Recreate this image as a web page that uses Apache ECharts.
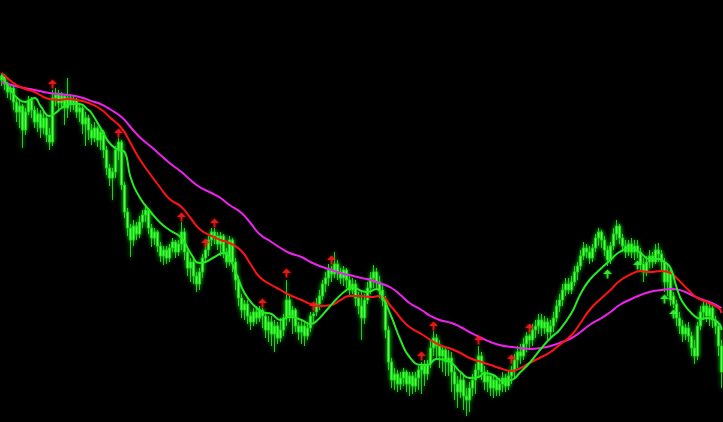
<!DOCTYPE html>
<html><head><meta charset="utf-8">
<script src="https://cdn.jsdelivr.net/npm/echarts@6/dist/echarts.min.js"></script>
<style>html,body{margin:0;padding:0;background:#000}#c{width:723px;height:422px}</style>
</head><body><div id="c"></div>
<script>
// Price bars: [open, close, lowest, highest] (axis drawn inverted, arbitrary units)
const bars = [
[80,76,73,86],[76,84,74,90],[84,92,82,98],[92,88,85,100],[88,102,86,110],[102,112,98,122],[112,106,100,128],[106,130,104,148],[130,112,108,135],[112,100,96,115],
[100,110,97,118],[110,122,106,128],[122,114,108,132],[114,128,110,138],[128,118,112,134],[118,135,115,142],[135,142,128,150],[142,98,90,146],[98,95,88,106],[95,103,90,110],
[103,96,92,108],[96,108,94,125],[108,98,78,118],[98,104,94,112],[104,100,96,110],[100,112,98,118],[112,108,104,122],[108,124,106,134],[124,118,112,146],[118,130,115,140],
[130,138,124,145],[138,128,122,142],[128,140,126,147],[140,132,128,150],[132,150,130,158],[150,168,146,175],[168,178,164,186],[178,172,168,200],[172,150,146,178],[150,142,138,160],
[142,185,140,190],[185,212,182,218],[212,228,208,236],[228,240,224,257],[240,226,220,246],[226,234,222,240],[234,222,216,238],[222,215,210,228],[215,210,206,222],[210,228,208,234],
[228,238,224,247],[238,232,228,245],[232,246,230,252],[246,256,242,262],[256,250,246,265],[250,258,246,264],[258,248,244,262],[248,242,238,252],[242,252,240,258],[252,244,240,256],
[244,232,222,250],[232,252,228,260],[252,268,248,276],[268,262,258,282],[262,276,258,284],[276,284,272,292],[284,272,268,290],[272,258,254,278],[258,250,247,262],[250,240,236,256],
[240,232,228,246],[232,236,228,244],[236,244,232,250],[244,236,232,256],[236,252,234,258],[252,262,248,268],[262,240,236,266],[240,262,238,272],[262,280,258,290],[280,298,276,306],
[298,310,294,318],[310,304,300,320],[304,316,300,324],[316,322,312,330],[322,312,308,326],[312,318,306,324],[318,310,306,322],[310,316,308,328],[316,330,312,338],[330,322,316,342],
[322,334,316,346],[334,326,320,352],[326,338,322,344],[338,330,318,342],[330,318,314,336],[318,300,280,326],[300,316,296,322],[316,310,306,334],[310,326,308,332],[326,332,322,340],
[332,326,320,344],[326,336,322,346],[336,328,322,340],[328,316,312,332],[316,314,312,324],[312,304,298,316],[304,296,290,310],[296,284,280,300],[284,278,272,292],[278,270,264,286],
[270,274,266,282],[274,264,252,278],[264,272,260,280],[272,278,268,284],[278,270,266,286],[270,280,268,288],[280,290,276,296],[290,284,278,294],[284,298,280,306],[298,306,292,314],
[306,318,292,340],[318,300,294,324],[300,288,282,304],[288,278,272,294],[278,272,265,288],[272,282,268,290],[282,290,276,298],[290,300,284,306],[300,330,296,338],[330,362,326,370],
[362,380,358,388],[380,374,368,390],[374,384,370,392],[384,378,372,390],[378,372,368,386],[372,384,370,392],[384,376,372,396],[376,386,372,394],[386,378,372,392],[378,370,366,390],
[370,366,362,394],[366,374,360,386],[374,364,360,380],[364,348,340,368],[348,338,331,356],[338,346,334,358],[346,356,340,368],[356,350,346,372],[350,362,348,376],[362,358,350,376],
[358,372,352,392],[372,384,366,400],[384,392,376,408],[392,380,372,398],[380,396,376,410],[396,400,388,416],[400,388,382,412],[388,380,374,396],[380,370,364,394],[370,356,346,376],
[356,372,352,380],[372,382,366,390],[382,376,370,392],[376,388,374,396],[388,380,376,398],[380,390,376,396],[390,384,378,396],[384,378,372,392],[378,386,374,392],[386,376,370,390],
[376,370,366,384],[370,360,354,378],[360,352,346,368],[352,356,344,364],[356,344,338,360],[344,336,332,352],[336,340,334,350],[340,330,324,346],[330,326,320,338],[326,320,314,334],
[320,328,314,336],[328,322,316,334],[322,332,318,340],[332,326,320,338],[326,318,312,332],[318,306,300,322],[306,300,294,312],[300,290,284,306],[290,284,278,296],[284,290,278,294],
[290,282,276,294],[282,272,266,286],[272,266,262,280],[266,256,250,270],[256,248,242,260],[248,252,244,258],[252,258,246,264],[258,248,244,262],[248,238,234,252],[238,232,228,246],
[232,240,230,248],[240,250,236,256],[250,260,246,266],[260,246,242,264],[246,234,228,250],[234,226,220,240],[226,238,224,244],[238,246,234,252],[246,252,240,258],[252,244,240,256],
[244,252,238,258],[252,246,240,260],[246,252,240,258],[252,264,248,272],[264,272,258,282],[272,262,256,276],[262,256,250,268],[256,262,252,268],[262,250,244,264],[250,254,243,262],
[254,262,250,270],[262,282,258,292],[282,272,264,296],[272,300,268,306],[296,304,292,308],[304,318,300,326],[318,326,312,334],[326,334,320,342],[334,328,324,340],[328,336,322,342],
[336,348,332,356],[348,356,340,364],[356,326,322,360],[326,312,306,330],[312,306,300,320],[306,316,302,322],[316,308,304,326],[308,320,306,328],[320,326,316,334],[326,346,322,356],
[346,372,340,388]
];

// Moving averages: [barIndex, value]
const maFast = [[0,75],[3,90],[6,100],[8,102],[11,98],[13,106],[16,116],[18,113],[20,108],[23,104],[26,104],[29,110],[30,113],[33,128],[36,143],[39,150],[41,152],[43,177],[46,197],[50,213],[53,223],[56,230],[60,238],[63,253],[66,263],[68,262],[71,257],[74,253],[76,258],[78,272],[81,293],[84,305],[87,312],[90,314],[93,320],[96,317],[100,320],[103,324],[105,321],[109,308],[112,298],[115,290],[117,287],[120,291],[122,292],[125,289],[127,297],[130,317],[133,340],[136,357],[140,365],[142,365],[145,359],[149,361],[153,372],[156,378],[159,377],[161,373],[164,375],[167,381],[170,380],[173,372],[176,363],[180,348],[183,338],[186,330],[190,313],[193,294],[196,280],[200,268],[203,260],[206,252],[210,248],[213,253],[216,259],[219,259],[221,262],[223,268],[225,287],[227,302],[231,316],[233,319],[235,318],[239,323],[240,330]];
const maMid = [[0,73],[4,83],[7,88],[11,92],[14,97],[16,99],[19,100],[22,99],[25,100],[29,103],[33,109],[36,117],[40,128],[43,143],[46,159],[50,176],[53,188],[56,199],[60,207],[63,218],[66,229],[70,236],[73,240],[76,243],[80,251],[83,264],[86,277],[90,285],[93,290],[96,295],[100,300],[103,304],[106,306],[110,305],[113,300],[116,296],[120,296],[123,297],[126,296],[130,307],[133,318],[136,327],[140,334],[143,340],[146,345],[150,349],[153,353],[156,358],[160,362],[163,365],[166,368],[170,371],[173,368],[176,363],[180,357],[183,352],[186,345],[190,335],[193,323],[196,310],[200,298],[203,290],[206,281],[210,274],[213,271],[216,272],[220,271],[223,273],[225,278],[229,290],[232,298],[235,302],[239,308],[240,313]];
const maSlow = [[0,82],[6,87],[11,90],[16,93],[22,95],[26,97],[31,102],[33,104],[36,109],[40,117],[43,127],[46,137],[50,147],[53,155],[56,163],[60,172],[63,180],[66,187],[70,193],[73,198],[76,205],[80,213],[83,223],[86,234],[90,242],[93,248],[96,253],[100,257],[103,262],[106,266],[110,270],[113,273],[116,275],[120,278],[123,280],[126,283],[130,288],[133,295],[136,303],[140,310],[143,316],[146,320],[150,323],[153,327],[156,332],[160,338],[163,342],[166,345],[170,347],[173,348],[176,349],[180,348],[183,346],[186,343],[190,338],[193,332],[196,325],[200,318],[203,312],[206,305],[210,299],[213,295],[216,292],[220,290],[223,289],[226,290],[230,295],[233,299],[236,302],[240,308]];

// Signal markers: [barIndex, value]
const redMarks = [[17,84],[39,133],[60,217],[68,243],[71,223],[87,303],[95,273],[104,306],[110,260],[140,356],[144,326],[159,340],[170,359],[176,328]];
const greenMarks = [[202,274],[212,265],[221,299],[224,314]];

const categories = bars.map((_, i) => 'B' + (i + 1));

const chart = echarts.init(document.getElementById('c'));
chart.setOption({
  backgroundColor: '#000000',
  animation: false,
  grid: { left: 0, right: 0, top: 0, bottom: 0 },
  xAxis: { type: 'category', data: categories, show: false, boundaryGap: true },
  yAxis: { type: 'value', min: 0, max: 422, inverse: true, show: false },
  series: [
    { type: 'candlestick', data: bars, barWidth: 2, z: 2,
      itemStyle: { color: '#6dff55', color0: '#6dff55', borderColor: '#1fd01f', borderColor0: '#1fd01f', borderWidth: 1,
        shadowBlur: 4, shadowColor: 'rgba(40,255,40,0.8)' } },
    { type: 'line', data: maSlow, smooth: 0.5, symbol: 'none', z: 3,
      lineStyle: { color: '#ee22ee', width: 2 } },
    { type: 'line', data: maMid, smooth: 0.5, symbol: 'none', z: 3,
      lineStyle: { color: '#ff1414', width: 2 } },
    { type: 'line', data: maFast, smooth: 0.5, symbol: 'none', z: 4,
      lineStyle: { color: '#22ee22', width: 2 } },
    { type: 'scatter', data: redMarks, z: 6,
      symbol: 'path://M5,0 L10,5 L6,5 L6,10 L4,10 L4,5 L0,5 Z', symbolSize: [9, 9],
      itemStyle: { color: '#ff2020', shadowBlur: 3, shadowColor: 'rgba(255,0,0,0.8)' } },
    { type: 'scatter', data: greenMarks, z: 6,
      symbol: 'path://M5,0 L10,5 L6,5 L6,10 L4,10 L4,5 L0,5 Z', symbolSize: [9, 9],
      itemStyle: { color: '#44ff44', shadowBlur: 3, shadowColor: 'rgba(0,255,0,0.8)' } }
  ]
});
</script></body></html>
